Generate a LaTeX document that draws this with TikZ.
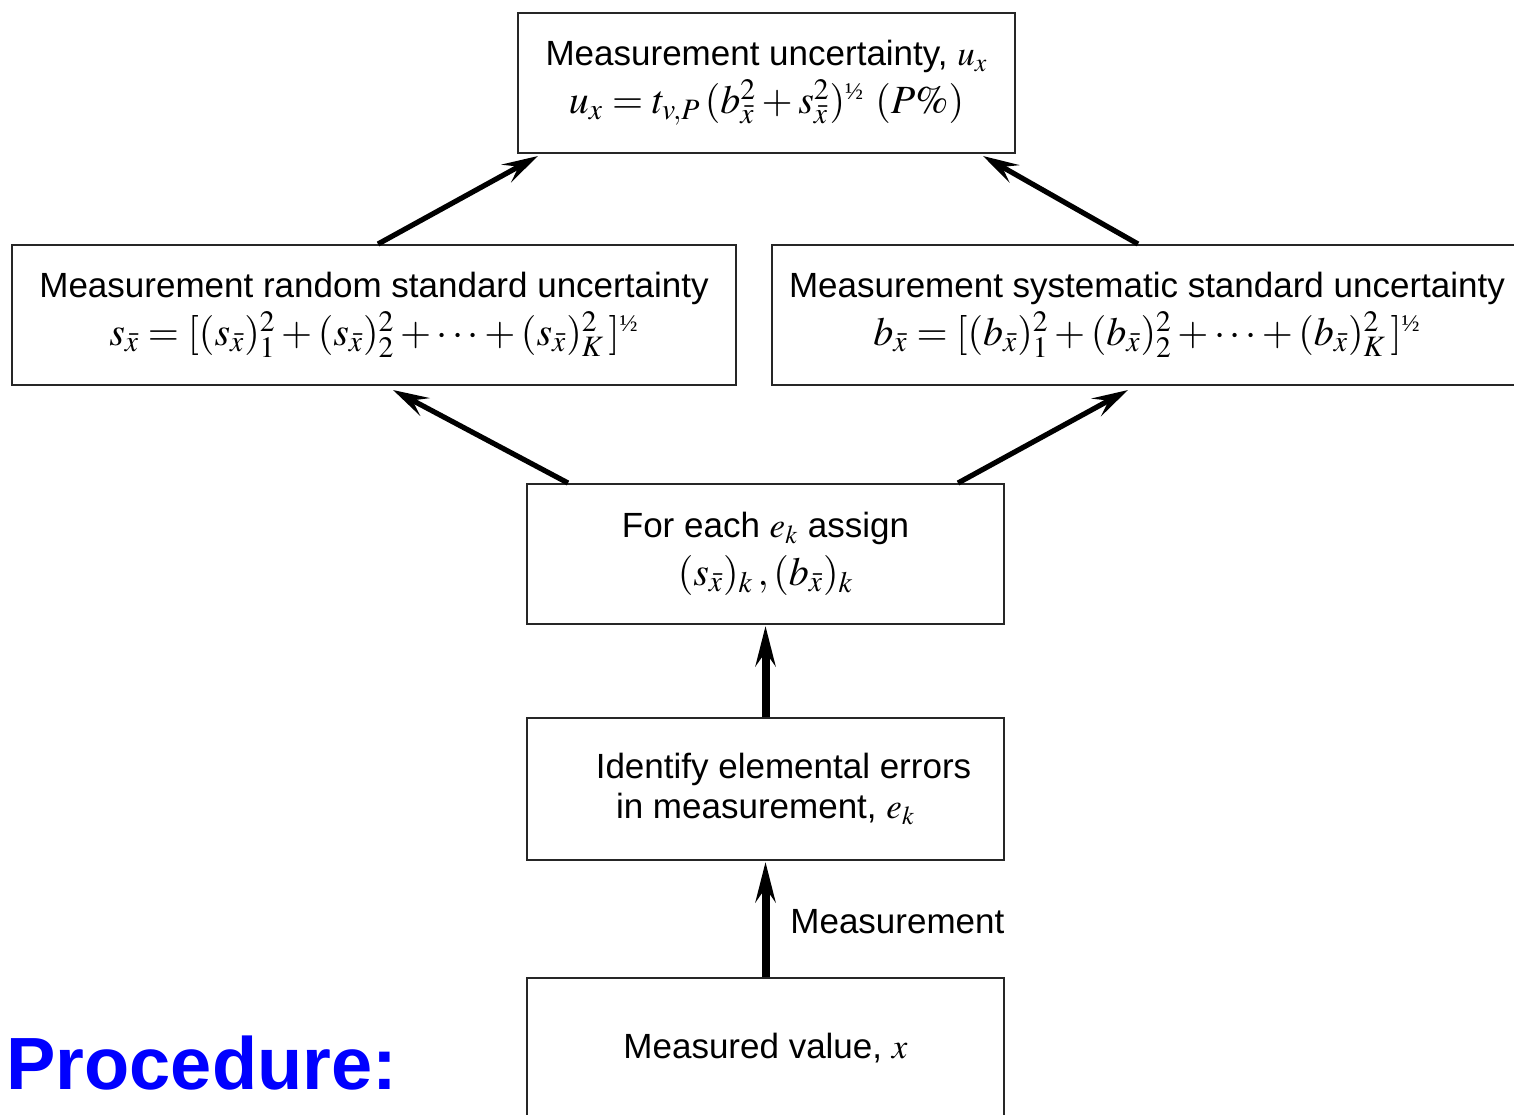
\documentclass[tikz,border=0pt]{standalone}
\usepackage{mathptmx}
\usepackage{fontspec}
\setmainfont{Liberation Sans}
\newfontfamily\serifhalf{Liberation Serif}
\usetikzlibrary{arrows.meta}
\newcommand\halfpow{\mbox{\fontsize{12}{12}\selectfont\serifhalf ½}}
\newcommand\mathline{\fontsize{20}{24}\selectfont}
\definecolor{procblue}{RGB}{0,0,255}
\tikzset{
  box/.style={draw=black!85, line width=1pt, rectangle, minimum height=70pt,
    align=center, inner sep=0pt, font=\fontsize{17.5}{24}\selectfont},
  slant/.style={line width=2.6pt, -{Stealth[length=18pt, width=10pt, inset=7pt]}},
  upright/.style={line width=4pt, -{Stealth[length=20pt, width=10pt, inset=7pt]}},
}
\begin{document}
\begin{tikzpicture}[x=0.5pt, y=-0.5pt]
\useasboundingbox (0,0) rectangle (1514,1114);
\clip (0,0) rectangle (1514,1114);
\fill[white] (0,0) rectangle (1514,1114);

% boxes, top to bottom
\node[box, minimum width=248.5pt] (total) at (766.5,83)
  {Measurement uncertainty, $u_x$\\
   {\mathline $u_x = t_{v,P}\,(b^2_{\bar x} + s^2_{\bar x})^{\halfpow}\ (P\%)$}};
\node[box, minimum width=362pt] (rand) at (374,315)
  {Measurement random standard uncertainty\\
   {\mathline $s_{\bar x} = [(s_{\bar x})^2_1 + (s_{\bar x})^2_2 + \cdots + (s_{\bar x})^2_K\,]^{\halfpow}$}};
\node[box, minimum width=375pt] (sys) at (1147,315)
  {Measurement systematic standard uncertainty\\
   {\mathline $b_{\bar x} = [(b_{\bar x})^2_1 + (b_{\bar x})^2_2 + \cdots + (b_{\bar x})^2_K\,]^{\halfpow}$}};
\node[box, minimum width=238.5pt] (assign) at (765.5,554)
  {For each $e_k$ assign\\
   {\mathline $(s_{\bar x})_k\,, (b_{\bar x})_k$}};
\node[box, minimum width=238.5pt, minimum height=71pt,
      font=\fontsize{17.5}{20}\selectfont] (ident) at (765.5,789)
  {\hspace*{18pt}Identify elemental errors\\
   in measurement, $e_k$};
\node[box, minimum width=238.5pt] (meas) at (765.5,1048)
  {Measured value, $x$};

% connectors
\draw[slant] ([xshift=2pt]rand.north) -- ([xshift=-114.25pt, yshift=-1pt]total.south);
\draw[slant] ([xshift=-4.5pt]sys.north) -- ([xshift=108.25pt, yshift=-1pt]total.south);
\draw[slant] ([xshift=-98.75pt]assign.north) -- ([xshift=9.5pt, yshift=-2pt]rand.south);
\draw[slant] ([xshift=96.25pt]assign.north) -- ([xshift=-9.5pt, yshift=-2pt]sys.south);
\draw[upright] (ident.north) -- ([yshift=-0.5pt]assign.south);
\draw[upright] (meas.north) -- ([yshift=-0.5pt]ident.south);

\node[anchor=west, inner sep=0pt, font=\fontsize{17.5}{24}\selectfont] (mlabel) at (790,922) {Measurement};

\node[anchor=west, inner sep=0pt, text=procblue, font=\fontsize{37}{40}\bfseries] (proc) at (6,1063) {Procedure:};
\end{tikzpicture}
\end{document}
